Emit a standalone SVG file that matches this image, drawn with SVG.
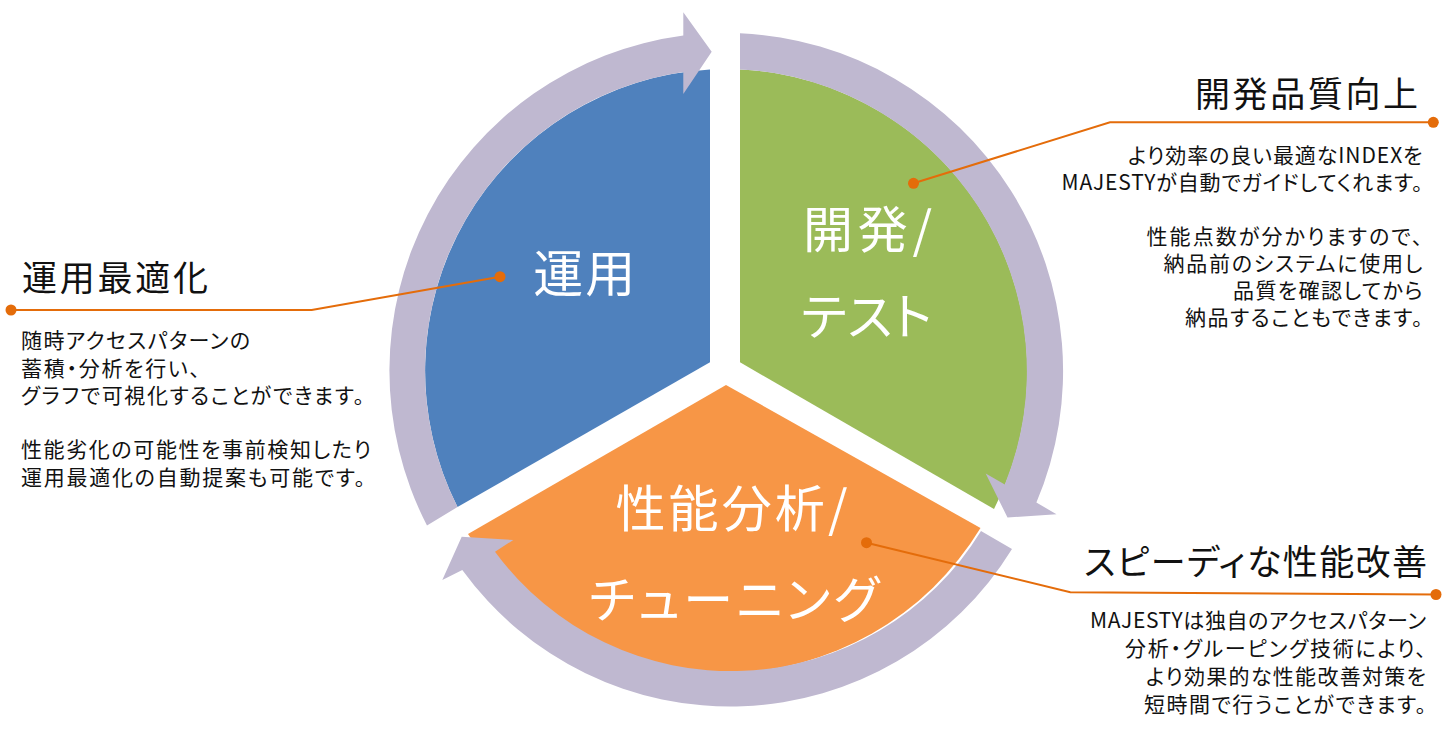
<svg xmlns="http://www.w3.org/2000/svg" width="1452" height="745" viewBox="0 0 1452 745">
<style>
  text { font-family: "Noto Sans CJK JP", "Noto Sans CJK SC", sans-serif; font-feature-settings: "palt"; }
  .seg-label { fill: #ffffff; font-size: 50px; text-anchor: middle; }
  .title { fill: #111111; font-size: 35px; }
  .body { fill: #111111; font-size: 21px; }
  .end { text-anchor: end; }
  .ring { fill: #BFB8D0; }
  .leader { stroke: #E46C0A; stroke-width: 2; fill: none; }
  .dot { fill: #E46C0A; }
  .blue { fill: #4F81BD; }
  .green { fill: #9BBB59; }
  .orange { fill: #F79646; }
</style>
<rect width="1452" height="745" fill="#ffffff"/>

<g id="node-operation">
  <path class="blue" d="M710 362.3 L710 69.4 A302 302 0 0 0 457.5 507 Z"/>
  <text class="seg-label" x="584.3" y="291.5" textLength="102">運用</text>
</g>
<g id="node-development-test">
  <path class="green" d="M740 362.3 L740 69.4 A302 302 0 0 1 994 509 Z"/>
  <text class="seg-label" x="867.5" y="248" textLength="129">開発/</text>
  <text class="seg-label" x="866.5" y="334.5" textLength="131">テスト</text>
</g>
<g id="node-performance-tuning">
  <path class="orange" d="M726 385 L980.5 528 A302 302 0 0 1 468 534 Z"/>
  <text class="seg-label" x="731.5" y="527" textLength="232">性能分析/</text>
  <text class="seg-label" x="734" y="617.5" textLength="290">チューニング</text>
</g>

<g id="connectors">
  <g id="cycle-arrows">
    <path class="ring" d="M427 525.5 A338 338 0 0 1 683.3 35.5 L683.3 12.3 L711.7 51.7 L683.3 94 L683.3 72 A302 302 0 0 0 457.5 507 Z"/>
    <path class="ring" d="M740 33.3 A338 338 0 0 1 1036.4 502.6 L1056.5 514.2 L1007.5 517.5 L985.7 473.4 L1004.8 484.4 A302 302 0 0 0 740 69.4 Z"/>
    <path class="ring" d="M1012 549 A331 331 0 0 1 462.3 570 L442.3 580 L461.7 536.7 L513.3 540 L495 551.7 A293 293 0 0 0 981 531 Z"/>
  </g>
  <g id="leader-lines">
    <polyline class="leader" points="11,310 311.7,310 500,276.7"/>
    <circle class="dot" cx="11" cy="310" r="5.5"/>
    <circle class="dot" cx="500" cy="276.7" r="5.5"/>

    <polyline class="leader" points="1433.3,122.3 1110,122.3 913.5,183.3"/>
    <circle class="dot" cx="1433.3" cy="122.3" r="5.5"/>
    <circle class="dot" cx="913.5" cy="183.3" r="5.5"/>

    <polyline class="leader" points="866.5,542.7 1070.3,592.3 1436,594.5"/>
    <circle class="dot" cx="866.5" cy="542.7" r="5.5"/>
    <circle class="dot" cx="1436" cy="594.5" r="5.5"/>
  </g>
</g>

<g id="callout-operation-optimization">
  <text class="title" x="22" y="291.3" textLength="186">運用最適化</text>
  <text class="body" x="21" y="348" textLength="229">随時アクセスパターンの</text>
  <text class="body" x="21" y="375.5" textLength="179">蓄積・分析を行い、</text>
  <text class="body" x="21" y="403" textLength="343">グラフで可視化することができます。</text>
  <text class="body" x="21" y="457" textLength="350">性能劣化の可能性を事前検知したり</text>
  <text class="body" x="21" y="484.5" textLength="344">運用最適化の自動提案も可能です。</text>
</g>

<g id="callout-quality">
  <text class="title end" x="1418" y="106.6" textLength="223">開発品質向上</text>
  <text class="body end" x="1422.5" y="163" textLength="294.5">より効率の良い最適なINDEXを</text>
  <text class="body end" x="1422.5" y="190" textLength="361">MAJESTYが自動でガイドしてくれます。</text>
  <text class="body end" x="1422.5" y="244" textLength="276">性能点数が分かりますので、</text>
  <text class="body end" x="1422.5" y="271" textLength="259">納品前のシステムに使用し</text>
  <text class="body end" x="1422.5" y="298" textLength="189.5">品質を確認してから</text>
  <text class="body end" x="1422.5" y="325" textLength="237.5">納品することもできます。</text>
</g>

<g id="callout-speedy">
  <text class="title end" x="1427" y="575" textLength="343">スピーディな性能改善</text>
  <text class="body end" x="1426" y="628" textLength="336">MAJESTYは独自のアクセスパターン</text>
  <text class="body end" x="1426" y="656" textLength="301">分析・グルーピング技術により、</text>
  <text class="body end" x="1426" y="684" textLength="280">より効果的な性能改善対策を</text>
  <text class="body end" x="1426" y="711.5" textLength="282">短時間で行うことができます。</text>
</g>
</svg>
